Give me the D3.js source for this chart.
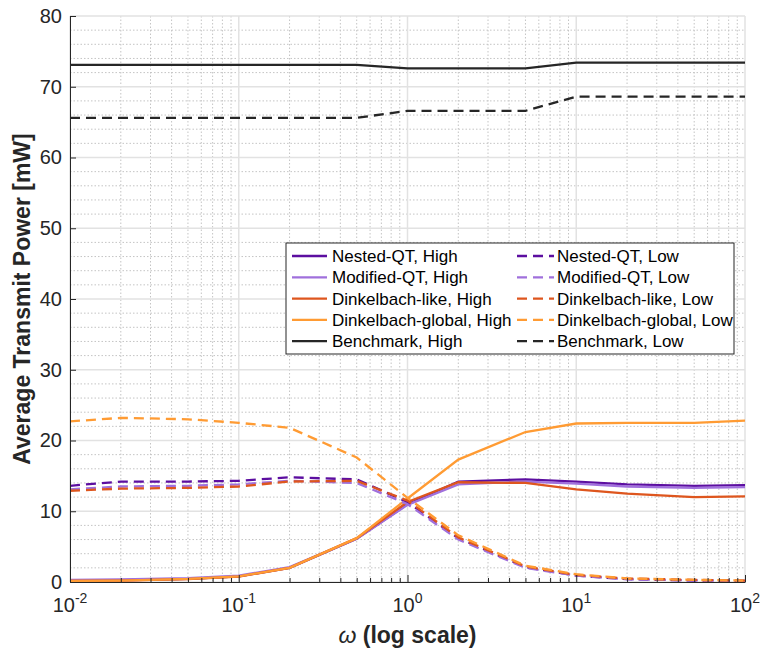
<!DOCTYPE html>
<html>
<head>
<meta charset="utf-8">
<script src="https://cdn.jsdelivr.net/npm/d3@7"></script>
<style>
  body { margin: 0; background: #fff; }
  svg { display: block; font-family: "Liberation Sans", Arial, sans-serif; }
</style>
</head>
<body>
<div id="chart"></div>
<script>
// omega values (x, log scale)
var omega = [0.01, 0.02, 0.05, 0.1, 0.2, 0.5, 1, 2, 5, 10, 20, 50, 100];

// average transmit power [mW], high-load scenario
var nestedHigh   = [0.2, 0.25, 0.45, 0.8, 2.0, 6.1, 11.0, 14.2, 14.5, 14.2, 13.8, 13.6, 13.7];
var modifiedHigh = [0.3, 0.35, 0.55, 0.9, 2.1, 6.1, 10.9, 13.8, 14.2, 13.9, 13.5, 13.3, 13.4];
var dinkLikeHigh = [0.15, 0.2, 0.4, 0.75, 2.0, 6.2, 11.3, 14.1, 14.0, 13.1, 12.5, 12.0, 12.1];
var dinkGlobHigh = [0.15, 0.2, 0.45, 0.8, 2.0, 6.2, 11.8, 17.3, 21.2, 22.4, 22.5, 22.5, 22.8];
var benchHigh    = [73.1, 73.1, 73.1, 73.1, 73.1, 73.1, 72.6, 72.6, 72.6, 73.4, 73.4, 73.4, 73.4];

// low-load scenario
var nestedLow   = [13.6, 14.2, 14.2, 14.3, 14.8, 14.5, 11.3, 6.2, 2.1, 0.9, 0.4, 0.2, 0.15];
var modifiedLow = [13.1, 13.5, 13.6, 13.8, 14.3, 14.0, 11.0, 6.0, 2.0, 0.9, 0.4, 0.25, 0.15];
var dinkLikeLow = [12.9, 13.2, 13.3, 13.5, 14.2, 14.3, 11.5, 6.3, 2.2, 1.0, 0.5, 0.3, 0.2];
var dinkGlobLow = [22.7, 23.2, 23.0, 22.5, 21.8, 17.6, 11.9, 6.6, 2.3, 1.1, 0.5, 0.3, 0.2];
var benchLow    = [65.6, 65.6, 65.6, 65.6, 65.6, 65.6, 66.6, 66.6, 66.6, 68.6, 68.6, 68.6, 68.6];

var seriesNames = ["Nested-QT", "Modified-QT", "Dinkelbach-like", "Dinkelbach-global", "Benchmark"];
var highValues = [nestedHigh, modifiedHigh, dinkLikeHigh, dinkGlobHigh, benchHigh];
var lowValues  = [nestedLow, modifiedLow, dinkLikeLow, dinkGlobLow, benchLow];
var colors = ["#5c0ea0", "#a070dc", "#de561e", "#ff9b33", "#262626"];

var xTickExp = [-2, -1, 0, 1, 2];
var yTicks = [0, 10, 20, 30, 40, 50, 60, 70, 80];

var W = 761, H = 654;
var margin = {top: 16, right: 16, bottom: 72, left: 70};
var width = W - margin.left - margin.right,
    height = H - margin.top - margin.bottom;

var svg = d3.select("#chart").append("svg")
    .attr("width", W)
    .attr("height", H)
    .append("g")
    .attr("transform", "translate(" + margin.left + "," + margin.top + ")");

var x = d3.scaleLog().domain([0.01, 100]).range([0, width]);
var y = d3.scaleLinear().domain([0, 80]).range([height, 0]);

// minor positions
var xMinor = [];
xTickExp.slice(0, -1).forEach(function(e) {
    for (var k = 2; k <= 9; k++) xMinor.push(k * Math.pow(10, e));
});
var yMinor = d3.range(0, 81, 2).filter(function(v) { return v % 10 != 0; });
var xMajor = xTickExp.map(function(e) { return Math.pow(10, e); });

// grid
var grid = svg.append("g").attr("class", "grid");
grid.selectAll(".xmin").data(xMinor).enter().append("line")
    .attr("x1", function(d) { return x(d); }).attr("x2", function(d) { return x(d); })
    .attr("y1", 0).attr("y2", height)
    .attr("stroke", "#c4c4c4").attr("stroke-width", 1).attr("stroke-dasharray", "1.5,2");
grid.selectAll(".ymin").data(yMinor).enter().append("line")
    .attr("x1", 0).attr("x2", width)
    .attr("y1", function(d) { return y(d); }).attr("y2", function(d) { return y(d); })
    .attr("stroke", "#c4c4c4").attr("stroke-width", 1).attr("stroke-dasharray", "1.5,2");
grid.selectAll(".xmaj").data(xMajor).enter().append("line")
    .attr("x1", function(d) { return x(d); }).attr("x2", function(d) { return x(d); })
    .attr("y1", 0).attr("y2", height)
    .attr("stroke", "#e2e2e2").attr("stroke-width", 1.5);
grid.selectAll(".ymaj").data(yTicks).enter().append("line")
    .attr("x1", 0).attr("x2", width)
    .attr("y1", function(d) { return y(d); }).attr("y2", function(d) { return y(d); })
    .attr("stroke", "#e2e2e2").attr("stroke-width", 1.5);

svg.append("clipPath").attr("id", "clip")
    .append("rect").attr("x", 0).attr("y", 0).attr("width", width).attr("height", height);

var line = d3.line()
    .x(function(d, i) { return x(omega[i]); })
    .y(function(d) { return y(d); });

var lines = svg.append("g").attr("clip-path", "url(#clip)");
highValues.forEach(function(vals, s) {
    lines.append("path").datum(vals)
        .attr("d", line)
        .attr("fill", "none")
        .attr("stroke", colors[s])
        .attr("stroke-width", 2.3);
});
lowValues.forEach(function(vals, s) {
    lines.append("path").datum(vals)
        .attr("d", line)
        .attr("fill", "none")
        .attr("stroke", colors[s])
        .attr("stroke-width", 2.3)
        .attr("stroke-dasharray", "10,6");
});

// axes
var xAxis = d3.axisBottom(x).tickValues(xMajor).tickSizeInner(-7).tickSizeOuter(0).tickFormat("");
var xAxisMinor = d3.axisBottom(x).tickValues(xMinor).tickSizeInner(-4).tickSizeOuter(0).tickFormat("");
var yAxis = d3.axisLeft(y).tickValues(yTicks).tickSizeInner(-6).tickSizeOuter(0).tickPadding(8);

var gx = svg.append("g").attr("transform", "translate(0," + height + ")").call(xAxis);
svg.append("g").attr("transform", "translate(0," + height + ")").call(xAxisMinor)
    .select(".domain").remove();
var gy = svg.append("g").call(yAxis);

[gx, gy].forEach(function(g) {
    g.selectAll(".domain, line").attr("stroke", "#262626");
});
svg.selectAll(".tick line").attr("stroke", "#262626");
gy.selectAll("text").attr("font-size", 20).attr("fill", "#262626")
    .attr("font-family", "'Liberation Sans', Arial, sans-serif");

// x tick labels 10^e
var xl = svg.append("g").attr("transform", "translate(0," + (height + 30) + ")");
xTickExp.forEach(function(e) {
    var t = xl.append("text")
        .attr("x", x(Math.pow(10, e)))
        .attr("text-anchor", "middle")
        .attr("font-size", 20)
        .attr("fill", "#262626");
    t.append("tspan").text("10");
    t.append("tspan").attr("font-size", 14).attr("dy", -9).text(e);
});

// axis titles
svg.append("text")
    .attr("x", width / 2)
    .attr("y", height + 61)
    .attr("text-anchor", "middle")
    .attr("font-size", 23)
    .attr("font-weight", "bold")
    .attr("fill", "#262626")
    .call(function(t) {
        t.append("tspan").attr("font-style", "italic").attr("font-weight", "normal").text("ω");
        t.append("tspan").text(" (log scale)");
    });

svg.append("text")
    .attr("transform", "translate(" + (-40) + "," + (height / 2) + ") rotate(-90)")
    .attr("text-anchor", "middle")
    .attr("font-size", 23)
    .attr("font-weight", "bold")
    .attr("fill", "#262626")
    .text("Average Transmit Power [mW]");

// legend
var lg = svg.append("g").attr("transform", "translate(" + (286 - margin.left) + "," + (243 - margin.top) + ")");
lg.append("rect")
    .attr("width", 448).attr("height", 111)
    .attr("fill", "#fff").attr("stroke", "#262626").attr("stroke-width", 1);

var rowY = function(i) { return 13 + i * 21.3; };
seriesNames.forEach(function(name, i) {
    lg.append("line")
        .attr("x1", 6).attr("x2", 41)
        .attr("y1", rowY(i)).attr("y2", rowY(i))
        .attr("stroke", colors[i]).attr("stroke-width", 2.3);
    lg.append("text")
        .attr("x", 46).attr("y", rowY(i)).attr("dy", "0.36em")
        .attr("font-size", 17).attr("fill", "#000")
        .text(name + ", High");
    lg.append("line")
        .attr("x1", 231).attr("x2", 268)
        .attr("y1", rowY(i)).attr("y2", rowY(i))
        .attr("stroke", colors[i]).attr("stroke-width", 2.3)
        .attr("stroke-dasharray", "10,6");
    lg.append("text")
        .attr("x", 271).attr("y", rowY(i)).attr("dy", "0.36em")
        .attr("font-size", 17).attr("fill", "#000")
        .text(name + ", Low");
});
</script>
</body>
</html>
